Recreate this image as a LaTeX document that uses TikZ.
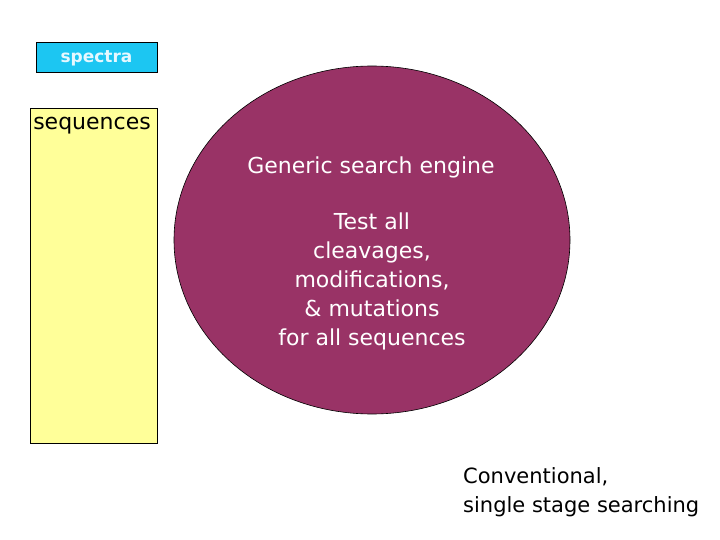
\documentclass[tikz,border=0pt]{standalone}
\usepackage{fontspec}
\setmainfont{DejaVu Sans}
\usetikzlibrary{shapes.geometric,positioning}
\definecolor{spectrablue}{HTML}{1CC6F2}
\definecolor{spectratext}{HTML}{E6F8FF}
\definecolor{seqyellow}{HTML}{FFFF99}
\definecolor{enginered}{HTML}{993366}
\tikzset{
  box/.style={draw=black, line width=0.8pt, inner sep=0pt},
  bigtext/.style={font=\fontsize{22}{29}\selectfont, align=center, inner sep=0pt},
}
\begin{document}
\begin{tikzpicture}[x=1pt,y=-1pt]
            \useasboundingbox (0,0) rectangle (720,540);

            \node[box, fill=spectrablue, minimum width=121pt, minimum height=30pt,
                  font=\fontsize{17}{20}\selectfont\bfseries, text=spectratext,
                  text depth=1pt] (spectra) at (96.5,57) {spectra};

            \node[box, fill=seqyellow, minimum width=127pt, minimum height=335pt] (seqbox) at (93.5,275.5) {};
            \node[bigtext, anchor=center] (seqlabel) at (92,126) {sequences};

            \node[ellipse, draw=black, line width=0.6pt, fill=enginered,
                  minimum width=396pt, minimum height=348pt] (engine) at (372,240) {};
            \node[bigtext, text=white] (enginetitle) at (371,167) {Generic search engine};
            \node[bigtext, text=white] (enginetests) at (372,281)
              {Test all\\cleavages,\\modifications,\\\& mutations\\for all sequences};

            \node[font=\fontsize{21}{29}\selectfont, align=left, inner sep=0pt, anchor=north west]
              (conventional) at (463,467) {Conventional,\\single stage searching};
\end{tikzpicture}
\end{document}
